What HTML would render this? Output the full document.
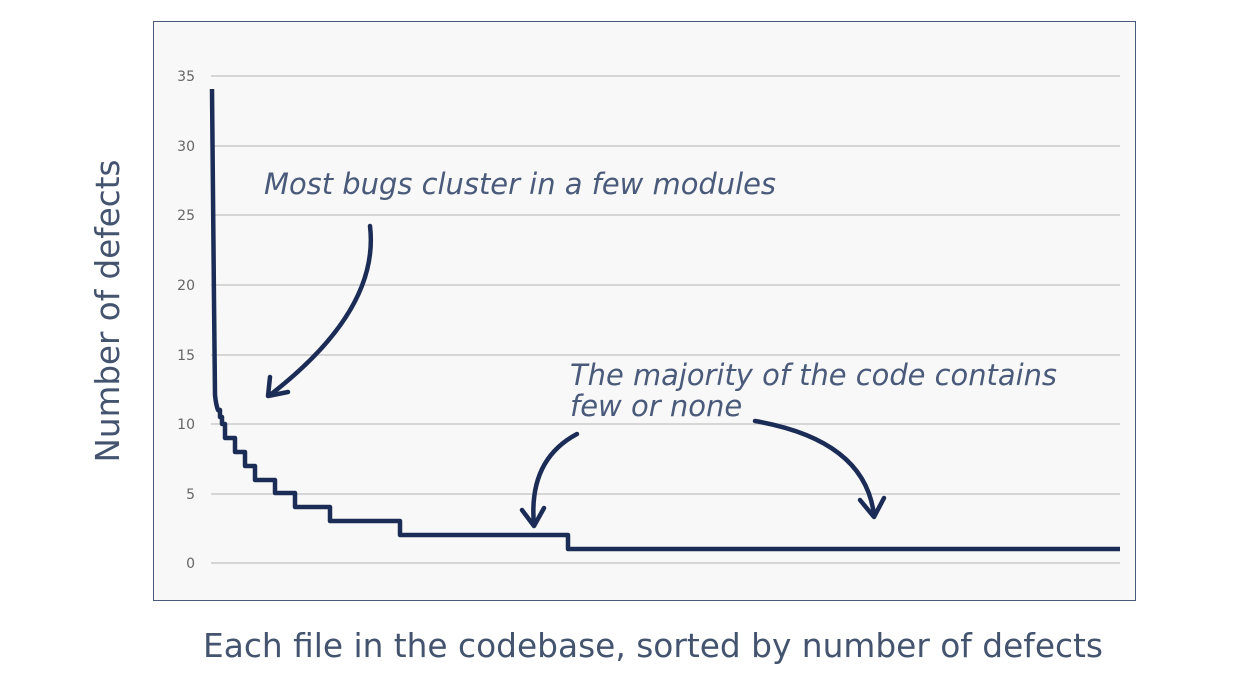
<!DOCTYPE html>
<html><head><style>
body{margin:0;width:1250px;height:686px;background:#fff;overflow:hidden;font-family:"Liberation Sans","DejaVu Sans",sans-serif}
</style></head><body>
<svg width="1250" height="686" xmlns="http://www.w3.org/2000/svg" style="position:absolute;left:0;top:0">
<rect x="153.5" y="21.5" width="982" height="579" fill="#f8f8f8" stroke="#4a5a7a" stroke-width="1"/>
<g stroke="#d6d6d6" stroke-width="2">
<line x1="211" y1="76" x2="1120" y2="76"/>
<line x1="211" y1="146" x2="1120" y2="146"/>
<line x1="211" y1="215" x2="1120" y2="215"/>
<line x1="211" y1="285" x2="1120" y2="285"/>
<line x1="211" y1="355" x2="1120" y2="355"/>
<line x1="211" y1="424" x2="1120" y2="424"/>
<line x1="211" y1="494" x2="1120" y2="494"/>
<line x1="211" y1="563" x2="1120" y2="563"/>
</g>
<g fill="#666" font-size="14" text-anchor="end" font-family="DejaVu Sans, sans-serif">
<text x="195" y="81">35</text><text x="195" y="151">30</text><text x="195" y="220">25</text>
<text x="195" y="290">20</text><text x="195" y="360">15</text><text x="195" y="429">10</text>
<text x="195" y="499">5</text><text x="195" y="568">0</text>
</g>
<path d="M212,89 L214,300 L215,395 Q216,405 218,410 L220,410 L220,417 L222,417 L222,424 L225,424 L225,438 L235,438 L235,452 L245,452 L245,466 L255,466 L255,480 L275,480 L275,493 L295,493 L295,507 L330,507 L330,521 L400,521 L400,535 L568,535 L568,549 L1120,549" fill="none" stroke="#1b2d57" stroke-width="4.5" stroke-linejoin="round"/>
<g fill="none" stroke="#1b2d57" stroke-width="4.5" stroke-linecap="round" stroke-linejoin="round">
<path d="M370,226 Q380,310 270,395"/>
<path d="M270,377 L268,396 L288,392"/>
<path d="M577,434 Q528,460 534,525"/>
<path d="M522,510 L534,526 L544,508"/>
<path d="M755,421 Q865,440 874,515"/>
<path d="M860,500 L874,517 L884,498"/>
</g>
<g fill="#4a5a7a" font-style="italic" font-size="29" font-family="DejaVu Sans, sans-serif">
<text x="264" y="194" textLength="512" lengthAdjust="spacingAndGlyphs">Most bugs cluster in a few modules</text>
<text x="570" y="385" textLength="487" lengthAdjust="spacingAndGlyphs">The majority of the code contains</text>
<text x="570" y="416">few or none</text>
</g>
<text x="653" y="657" fill="#44546f" font-size="32.8" text-anchor="middle" font-family="DejaVu Sans, sans-serif" textLength="900" lengthAdjust="spacingAndGlyphs">Each file in the codebase, sorted by number of defects</text>
<text transform="translate(119,311) rotate(-90)" fill="#44546f" font-size="32.6" text-anchor="middle" font-family="DejaVu Sans, sans-serif">Number of defects</text>
</svg>
</body></html>
